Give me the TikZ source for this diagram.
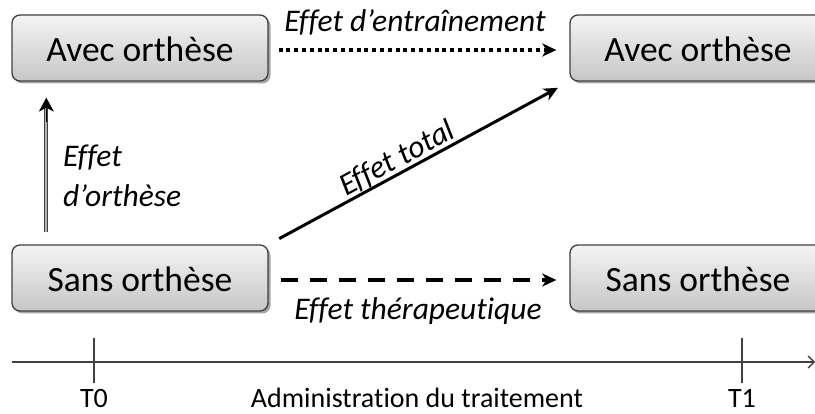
\documentclass[tikz,border=0pt]{standalone}
\usepackage{fontspec}
\setmainfont[Ligatures={NoCommon}]{Carlito}
\usetikzlibrary{arrows.meta,shadows,calc}
\definecolor{boxline}{HTML}{3F3F3F}
\definecolor{boxtop}{HTML}{F4F4F4}
\definecolor{boxbot}{HTML}{C6C6C6}
\definecolor{axisgray}{HTML}{404040}
\tikzset{
  statebox/.style={draw=boxline, line width=1.3pt, rounded corners=8pt,
    top color=boxtop, bottom color=boxbot,
    minimum width=256pt, minimum height=66pt, inner sep=0pt,
    text height=28pt, text depth=0pt,
    font=\fontsize{35.5}{40}\selectfont,
    drop shadow={shadow xshift=2.5pt, shadow yshift=-2.5pt, opacity=0.35, fill=black}},
  efflabel/.style={font=\fontsize{31.5}{36}\selectfont\itshape, inner sep=0pt},
  axlabel/.style={font=\fontsize{28}{32}\selectfont, inner sep=0pt, anchor=base},
  bigtip/.style={-{Stealth[length=14pt,width=13pt,inset=4pt]}},
  dotarrow/.style={bigtip, line width=4pt, dash pattern=on 4pt off 3.8pt, shorten <=10pt, shorten >=13pt},
  dasharrow/.style={bigtip, line width=4pt, dash pattern=on 17pt off 12pt, shorten <=12pt, shorten >=13pt},
  solidarrow/.style={bigtip, line width=3pt, shorten <=12pt, shorten >=13pt},
  axisline/.style={draw=axisgray, line width=1.3pt},
}
\begin{document}
\begin{tikzpicture}[x=1pt,y=-1pt]
\useasboundingbox (0,0) rectangle (815,414);
\clip (0,0) rectangle (815,414);
% boxes
\node[statebox] (a0) at (140,48) {Avec orthèse};
\node[statebox] (a1) at (698,48) {Avec orthèse};
\node[statebox] (s0) at (140,278) {Sans orthèse};
\node[statebox] (s1) at (698,278) {Sans orthèse};
% dotted arrow
\draw[dotarrow] ([yshift=-2pt]a0.east) -- ([yshift=-2pt]a1.west);
\node[efflabel, anchor=base] (lent) at (415,32) {Effet d’entraînement};
% dashed arrow
\draw[dasharrow] ([yshift=-2pt]s0.east) -- ([yshift=-2pt]s1.west);
\node[efflabel, anchor=base] (lther) at (418,320) {Effet thérapeutique};
% diagonal arrow
\draw[solidarrow] (s0.north east) -- node[pos=0.45, sloped, above=0pt, efflabel] (ltot) {Effet total} (a1.south west);
% vertical arrow: double shaft, then a black tip
\coordinate (vbot) at ([xshift=35pt]s0.north west);
\coordinate (vtop) at ([xshift=35pt]a0.south west);
\draw[draw=axisgray, line width=1.2pt, double=gray!60, double distance=1.8pt,
  shorten <=12pt, shorten >=26pt] (vbot) -- (vtop);
\draw[black, line width=1pt, -{Stealth[length=14pt,width=15pt,inset=4pt]}, shorten >=16pt]
  ([yshift=-40pt]vtop) -- (vtop);
\node[efflabel, anchor=base west] (lorth1) at (63,167) {Effet};
\node[efflabel, anchor=base west] (lorth2) at (63,207) {d’orthèse};
% time axis
\coordinate (axL) at (12,362);
\coordinate (axR) at (815,362);
\coordinate (t0) at (94,362);
\coordinate (t1) at (742,362);
\draw[axisline, -{Straight Barb[length=6pt,width=12pt]}] (axL) -- (axR);
\draw[axisline] ([yshift=24pt]t0) -- ([yshift=-21pt]t0);
\draw[axisline] ([yshift=24pt]t1) -- ([yshift=-21pt]t1);
\node[axlabel] (lt0) at (94,408) {T0};
\node[axlabel] (lt1) at (742,408) {T1};
\node[axlabel] (ladm) at (417,408) {Administration du traitement};
\end{tikzpicture}
\end{document}
